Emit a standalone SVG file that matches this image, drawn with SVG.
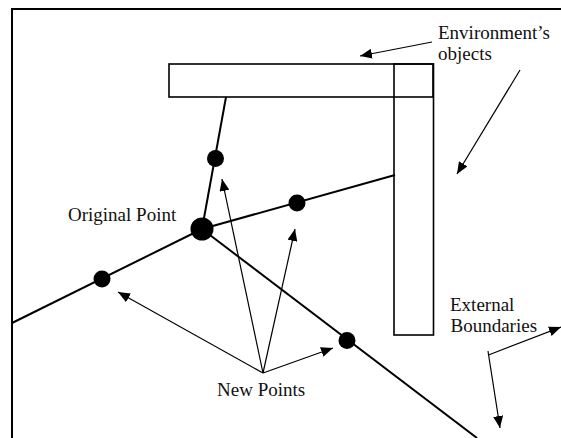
<svg xmlns="http://www.w3.org/2000/svg" width="561" height="438" viewBox="0 0 561 438">
  <style>
    .frame { fill: none; stroke: #000; stroke-width: 2; }
    .obj { fill: none; stroke: #000; stroke-width: 1.6; }
    .ray { fill: none; stroke: #000; stroke-width: 2; }
    .arrow { fill: none; stroke: #000; stroke-width: 1.2; marker-end: url(#head); }
    .pt { fill: #000; }
    text { font-family: "Liberation Serif", "Times New Roman", serif; font-size: 19px; fill: #111; }
  </style>
  <defs>
    <marker id="head" markerUnits="userSpaceOnUse" markerWidth="14" markerHeight="10" refX="12" refY="5" orient="auto">
      <path d="M0,0 L12,5 L0,10 Z" fill="#000"/>
    </marker>
  </defs>

  <rect width="561" height="438" fill="#fff"/>

  <!-- outer boundary -->
  <path class="frame" d="M12,438 L12,9 L561,9"/>

  <!-- environment objects -->
  <g id="wall-horizontal">
    <rect class="obj" x="169" y="64" width="264" height="33"/>
  </g>
  <g id="wall-vertical">
    <rect class="obj" x="394" y="64" width="39.5" height="271"/>
  </g>

  <!-- rays from the original point -->
  <g id="rays">
    <line class="ray" x1="202" y1="229" x2="226" y2="97"/>
    <line class="ray" x1="202" y1="229" x2="395" y2="175"/>
    <line class="ray" x1="202" y1="229" x2="12" y2="323" stroke-width="2.5"/>
    <line class="ray" x1="202" y1="229" x2="477" y2="438"/>
  </g>

  <!-- points -->
  <g id="original-point">
    <circle class="pt" cx="202" cy="229" r="11.5"/>
    <text x="68" y="221">Original Point</text>
  </g>
  <g id="new-point-up"><circle class="pt" cx="215.5" cy="158.5" r="8.5"/></g>
  <g id="new-point-right"><circle class="pt" cx="297" cy="203" r="8.5"/></g>
  <g id="new-point-left"><circle class="pt" cx="102" cy="279" r="8.5"/></g>
  <g id="new-point-down"><circle class="pt" cx="347" cy="340.5" r="8.5"/></g>

  <!-- labels -->
  <g id="label-new-points">
    <text x="217" y="395.5">New Points</text>
  </g>
  <g id="label-environment">
    <text x="438" y="39">Environment’s</text>
    <text x="438" y="60">objects</text>
  </g>
  <g id="label-boundaries">
    <text x="450" y="311">External</text>
    <text x="450.5" y="332">Boundaries</text>
  </g>

  <!-- annotation arrows -->
  <g id="connectors">
    <line class="arrow" x1="263" y1="373" x2="118" y2="292"/>
    <line class="arrow" x1="263" y1="373" x2="222" y2="179"/>
    <line class="arrow" x1="263" y1="373" x2="295" y2="229"/>
    <line class="arrow" x1="263" y1="373" x2="333" y2="348"/>
    <line class="arrow" x1="432" y1="42" x2="360" y2="56"/>
    <line class="arrow" x1="520" y1="70" x2="457" y2="174"/>
    <line class="arrow" x1="488.5" y1="355" x2="561" y2="327"/>
    <line class="arrow" x1="488" y1="351" x2="500" y2="428"/>
  </g>
</svg>
